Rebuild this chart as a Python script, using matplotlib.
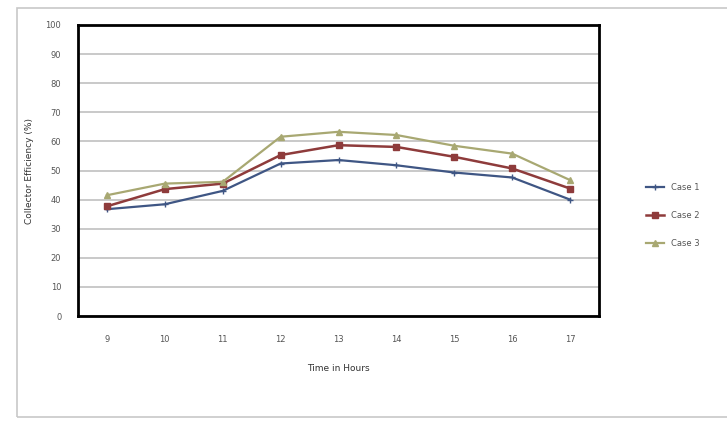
import matplotlib.pyplot as plt
from matplotlib.patches import Rectangle

hours = ['9', '10', '11', '12', '13', '14', '15', '16', '17']
case1 = [36.7, 38.4, 43.0, 52.4, 53.6, 51.8, 49.3, 47.6, 40.0]
case2 = [37.7, 43.6, 45.5, 55.3, 58.7, 58.1, 54.7, 50.7, 43.8]
case3 = [41.5, 45.5, 46.1, 61.6, 63.3, 62.2, 58.5, 55.8, 46.7]
labels = ['Case 1', 'Case 2', 'Case 3']

fig = plt.figure(figsize=(7.27, 4.21), dpi=100)
# outer chart frame
fig.patches.append(Rectangle((17 / 727, 4 / 421), 720 / 727, 409 / 421,
                             transform=fig.transFigure, fill=False,
                             edgecolor='#c8c8c8', linewidth=1.2))

ax = fig.add_axes([78 / 727, 105 / 421, 521 / 727, 291 / 421])
x = range(len(hours))
ax.plot(x, case1, color='#3f5684', marker='+', markersize=5, linewidth=1.6, label=labels[0])
ax.plot(x, case2, color='#8e3b3b', marker='s', markersize=4.5, linewidth=1.8, label=labels[1])
ax.plot(x, case3, color='#a8a872', marker='^', markersize=4, linewidth=1.6, label=labels[2])

ax.set_xlim(-0.5, len(hours) - 0.5)
ax.set_ylim(0, 100)
ax.set_yticks(range(0, 101, 10))
ax.set_xticks(list(x))
ax.set_xticklabels(hours)
ax.yaxis.grid(True, color='#c0c0c0', linewidth=1.2)
ax.set_axisbelow(True)
ax.tick_params(axis='both', length=0, labelsize=6, colors='#555555', pad=14)
ax.tick_params(axis='y', pad=12)
for s in ax.spines.values():
    s.set_linewidth(2)
    s.set_color('black')

ax.set_xlabel('Time in Hours', fontsize=6.5, color='#333333', labelpad=14)
ax.set_ylabel('Collector Efficiency (%)', fontsize=6.5, color='#333333', labelpad=8)

ax.legend(loc='center left', bbox_to_anchor=(1.075, 0.345), frameon=False,
          fontsize=6, handlelength=2.2, labelspacing=2.3, labelcolor='#555555')

fig.savefig('out.png', dpi=100)
